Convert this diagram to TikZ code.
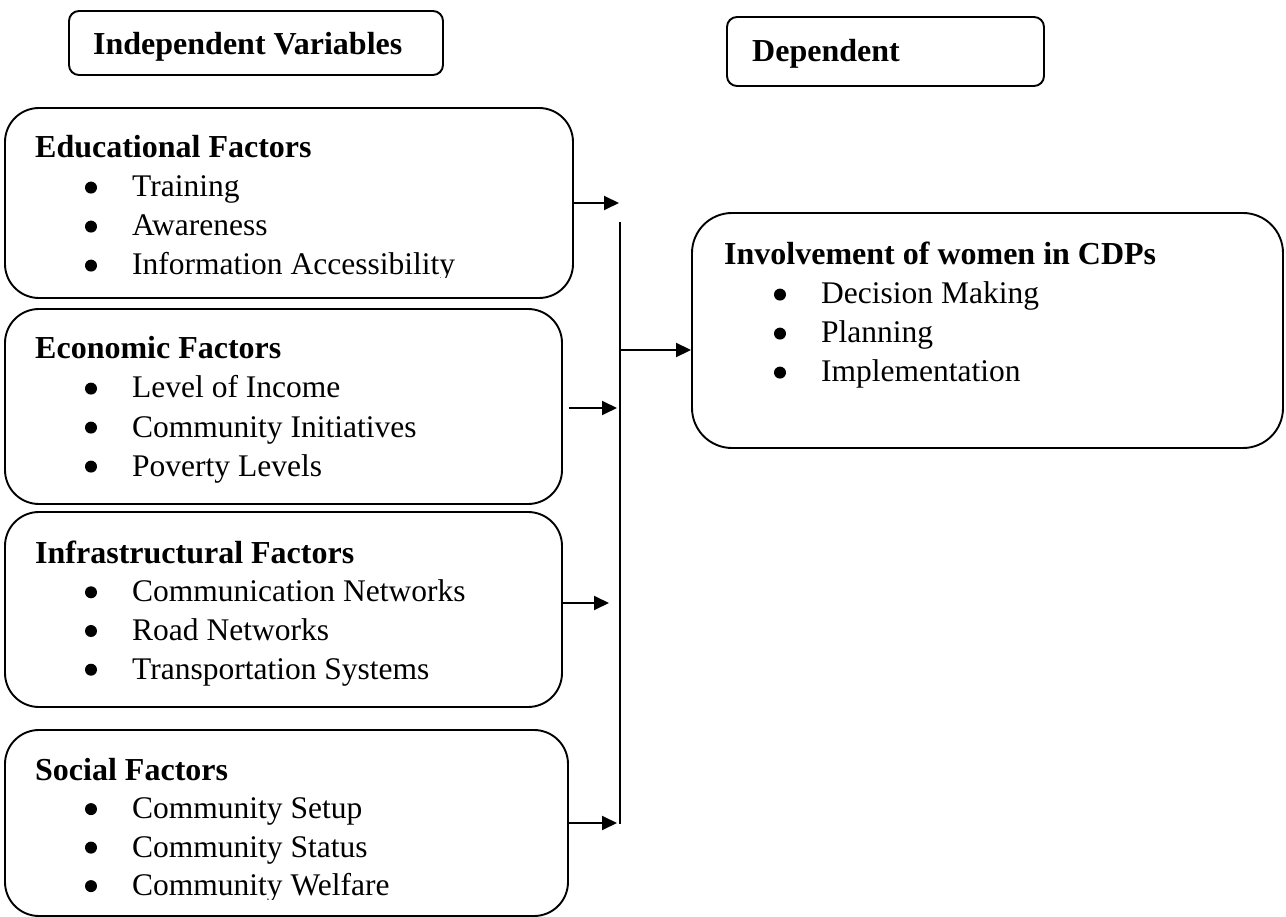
\documentclass[tikz,border=0pt]{standalone}
\usepackage{fontspec}
\setmainfont{Liberation Serif}
\usetikzlibrary{arrows.meta,positioning}
\tikzset{
box/.style={draw, line width=1.9pt, rounded corners=10pt, inner sep=0pt},
bigbox/.style={box, rounded corners=34pt},
head/.style={anchor=base west, inner sep=0pt, font=\fontsize{32}{38}\selectfont\bfseries},
item/.style={anchor=base west, inner sep=0pt, font=\fontsize{31.5}{38}\selectfont},
dot/.style={fill=black},
arr/.style={-{Triangle[length=15pt,width=14pt]}, line width=1.9pt},
}

\begin{document}
\begin{tikzpicture}[x=1pt, y=-1pt]
    \useasboundingbox (0,0) rectangle (1286,917);

    % variable headers
    \node[box, minimum width=374, minimum height=64] (indep) at (256,43) {};
    \node[head] (indepT) at (93,55) {Independent Variables};
    \node[box, minimum width=317, minimum height=69] (dep) at (885.5,51.5) {};
    \node[head] (depT) at (752,62) {Dependent};

    % factor boxes
    \node[bigbox, minimum width=568, minimum height=190] (edu) at (289,203) {};
    \node[bigbox, minimum width=557, minimum height=195] (eco) at (283.5,406.5) {};
    \node[bigbox, minimum width=557, minimum height=195] (infra) at (283.5,609.5) {};
    \node[bigbox, minimum width=563, minimum height=186] (soc) at (286.5,823) {};
    \node[bigbox, rounded corners=40pt, minimum width=591, minimum height=235] (inv) at (987.5,330.5) {};

    \begin{scope}
        \clip (0,0) rectangle (1286,278);
        \node[head] (eduT) at (35,158) {Educational Factors};
        \foreach \t [count=\i] in {Training, Awareness, Information Accessibility}
        {
            \node[item] (edu-\i) at (132,{158+39*\i}) {\t};
            \fill[dot] ([xshift=-41pt,yshift=9.4pt]edu-\i.base west) circle (6pt);
        }
    \end{scope}

    \node[head] (ecoT) at (35,359) {Economic Factors};
    \foreach \t [count=\i] in {Level of Income, Community Initiatives, Poverty Levels}
    {
        \node[item] (eco-\i) at (132,{359+39*\i}) {\t};
        \fill[dot] ([xshift=-41pt,yshift=9.4pt]eco-\i.base west) circle (6pt);
    }

    \node[head] (infraT) at (35,563) {Infrastructural Factors};
    \foreach \t [count=\i] in {Communication Networks, Road Networks, Transportation Systems}
    {
        \node[item] (infra-\i) at (132,{563+38.7*\i}) {\t};
        \fill[dot] ([xshift=-41pt,yshift=9.4pt]infra-\i.base west) circle (6pt);
    }

    \begin{scope}
        \clip (0,0) rectangle (1286,899);
        \node[head] (socT) at (35,780) {Social Factors};
        \foreach \t [count=\i] in {Community Setup, Community Status, Community Welfare}
        {
            \node[item] (soc-\i) at (132,{780+38.5*\i}) {\t};
            \fill[dot] ([xshift=-41pt,yshift=9.4pt]soc-\i.base west) circle (6pt);
        }
    \end{scope}

    \node[head] (invT) at (724,265) {Involvement of women in CDPs};
    \foreach \t [count=\i] in {Decision Making, Planning, Implementation}
    {
        \node[item] (inv-\i) at (821,{265+39*\i}) {\t};
        \fill[dot] ([xshift=-41pt,yshift=9.4pt]inv-\i.base west) circle (6pt);
    }

    % collecting line and arrows
    \coordinate (busTop) at (620,222);
    \coordinate (busMid) at (620,350);
    \coordinate (busBot) at (620,824);
    \draw[line width=1.9pt] (busTop) -- (busBot);

    \draw[arr, shorten >=1pt] (edu.east) -- (edu.east -| busTop);
    \draw[arr, shorten <=6pt, shorten >=3pt] ([yshift=-1.5pt]eco.east) -- ([yshift=-1.5pt]eco.east -| busTop);
    \draw[arr, shorten >=11pt] ([yshift=6.5pt]infra.east) -- ([yshift=6.5pt]infra.east -| busTop);
    \draw[arr, shorten >=3pt] (soc.east) -- (soc.east -| busTop);
    \draw[arr] (busMid) -- (busMid -| inv.west);
\end{tikzpicture}
\end{document}
